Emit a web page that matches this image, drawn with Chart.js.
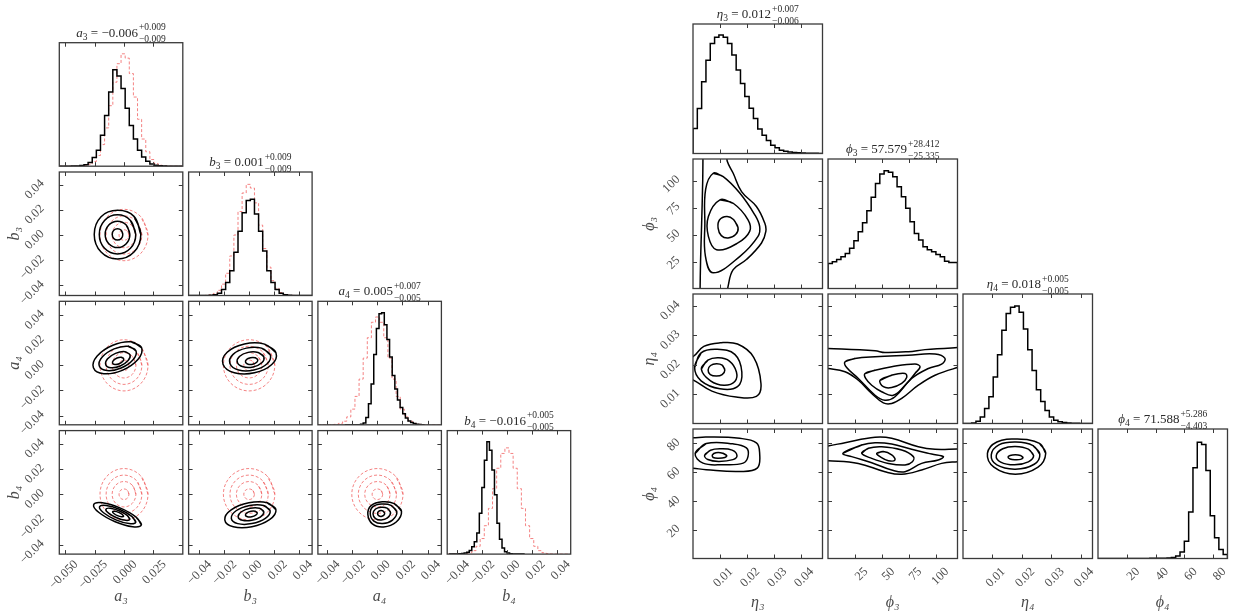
<!DOCTYPE html>
<html><head><meta charset="utf-8">
<script src="https://cdn.jsdelivr.net/npm/chart.js@4.4.1/dist/chart.umd.min.js"></script>
<style>
html,body{margin:0;padding:0;background:#fff;}
#wrap{position:relative;width:1233px;height:614px;overflow:hidden;background:#fff;}
#wrap canvas{position:absolute;left:0;top:0;}
.ttl{position:absolute;display:flex;align-items:center;transform:translateX(-50%);font-family:"Liberation Serif","DejaVu Serif",serif;color:#2a2a2a;white-space:nowrap;}
.ttl .m{font-size:13px;line-height:13px;}
.ttl .s{font-size:9.5px;position:relative;top:3px;}
.ttl .ud{display:flex;flex-direction:column;font-size:9.5px;line-height:12px;margin-left:1px;}
</style></head>
<body><div id="wrap"></div>
<script>
// ================= DATA =================
// axis ranges
const a3Range=[-0.055,0.050], b3Range=[-0.048,0.050], a4Range=[-0.0474,0.051], b4Range=[-0.0475,0.0505];
const eta3Range=[0,0.048], phi3Range=[0,120], eta4Range=[0,0.044], phi4Range=[0,90];
// tick values
const a3Ticks=[-0.050,-0.025,0,0.025];
const b3Ticks=[-0.04,-0.02,0,0.02,0.04];
const a4Ticks=[-0.04,-0.02,0,0.02,0.04];
const b4Ticks=[-0.04,-0.02,0,0.02,0.04];
const eta3Ticks=[0.01,0.02,0.03,0.04];
const phi3Ticks=[25,50,75,100];
const eta4Ticks=[0.01,0.02,0.03,0.04];
const phi4Ticks=[20,40,60,80];
// parameter names
const leftNames=['a₃','b₃','a₄','b₄'];
const rightNames=['η₃','ϕ₃','η₄','ϕ₄'];
// titles: [symbol, subscript, median, plus, minus]
const leftTitles=[['a','3','−0.006','+0.009','−0.009'],['b','3','0.001','+0.009','−0.009'],['a','4','0.005','+0.007','−0.005'],['b','4','−0.016','+0.005','−0.005']];
const rightTitles=[['η','3','0.012','+0.007','−0.006'],['ϕ','3','57.579','+28.412','−25.335'],['η','4','0.018','+0.005','−0.005'],['ϕ','4','71.588','+5.286','−4.403']];

// histogram bins: [first edge, bin width]; heights as fraction of panel height
const a3BinsBlack=[-0.055,0.0035], a3BinsRed=[-0.055,0.0035];
const a3HistBlack=[0,0,0,0.001,0.002,0.005,0.012,0.03,0.07,0.13,0.25,0.41,0.60,0.78,0.73,0.63,0.47,0.33,0.22,0.13,0.075,0.04,0.018,0.008,0.003,0.001,0,0,0,0];
const a3HistRed=[0,0,0,0,0.001,0.002,0.005,0.015,0.038,0.087,0.175,0.31,0.49,0.68,0.83,0.91,0.875,0.75,0.56,0.38,0.22,0.117,0.054,0.022,0.008,0.003,0.001,0,0,0];
const b3BinsBlack=[-0.048,0.0032667], b3BinsRed=[-0.048,0.0032667];
const b3HistBlack=[0,0,0,0,0.001,0.002,0.0065,0.019,0.048,0.105,0.20,0.35,0.52,0.67,0.77,0.78,0.66,0.52,0.36,0.20,0.105,0.048,0.019,0.0065,0.002,0.001,0,0,0,0];
const b3HistRed=[0,0,0,0,0.001,0.006,0.017,0.042,0.092,0.18,0.32,0.49,0.68,0.83,0.90,0.87,0.75,0.57,0.38,0.23,0.12,0.058,0.024,0.009,0.003,0.001,0,0,0,0];
const a4BinsBlack=[-0.026,0.0021], a4BinsRed=[-0.0474,0.00328];
const a4HistBlack=[0,0,0,0,0,0.001,0.004,0.015,0.06,0.17,0.33,0.57,0.78,0.90,0.908,0.81,0.69,0.55,0.40,0.29,0.20,0.14,0.09,0.055,0.03,0.018,0.01,0.005,0.002,0.001];
const a4HistRed=[0,0,0,0.001,0.004,0.0115,0.029,0.064,0.127,0.23,0.37,0.54,0.705,0.83,0.873,0.83,0.705,0.54,0.37,0.23,0.127,0.064,0.029,0.0115,0.004,0.001,0,0,0,0];
const b4BinsBlack=[-0.046,0.002], b4BinsRed=[-0.0475,0.00327];
const b4HistBlack=[0,0,0,0,0.002,0.004,0.008,0.015,0.03,0.06,0.10,0.17,0.33,0.54,0.76,0.91,0.84,0.68,0.48,0.25,0.12,0.05,0.02,0.008,0.003,0.001,0,0,0,0];
const b4HistRed=[0,0,0,0.001,0.004,0.011,0.028,0.063,0.126,0.23,0.37,0.53,0.695,0.815,0.86,0.815,0.695,0.53,0.37,0.23,0.126,0.063,0.028,0.011,0.004,0.001,0,0,0,0];

const eta3Bins=[0,0.0016];
const eta3Hist=[0.193,0.348,0.554,0.72,0.85,0.897,0.915,0.897,0.85,0.76,0.644,0.54,0.44,0.35,0.27,0.19,0.14,0.10,0.064,0.044,0.026,0.018,0.012,0.008,0.005,0.003,0.002,0.001,0.001,0.0005];
const phi3Bins=[0,4];
const phi3Hist=[0.193,0.206,0.224,0.245,0.27,0.31,0.369,0.438,0.508,0.60,0.704,0.81,0.884,0.91,0.897,0.863,0.786,0.709,0.619,0.515,0.425,0.374,0.322,0.30,0.284,0.263,0.245,0.211,0.20,0.20];
const eta4Bins=[0,0.0014667];
const eta4Hist=[0,0,0.003,0.018,0.05,0.116,0.206,0.36,0.53,0.72,0.85,0.897,0.907,0.86,0.73,0.57,0.41,0.26,0.17,0.10,0.05,0.026,0.013,0.007,0.004,0.002,0.001,0,0,0];
const phi4Bins=[0,3];
const phi4Hist=[0,0,0,0,0,0,0,0,0,0,0,0,0.001,0.001,0.002,0.002,0.004,0.008,0.02,0.05,0.134,0.36,0.70,0.897,0.88,0.68,0.33,0.16,0.07,0.03];

// true-value (red dashed) contours, shared by all left 2D panels
const redContours=[
 [[0.0042,0],[0.003,0.003],[0,0.0042],[-0.003,0.003],[-0.0042,0],[-0.003,-0.003],[0,-0.0042],[0.003,-0.003]],
 [[0.0101,0],[0.00714,0.00714],[0,0.0101],[-0.00714,0.00714],[-0.0101,0],[-0.00714,-0.00714],[0,-0.0101],[0.00714,-0.00714]],
 [[0.0152,0],[0.01075,0.01075],[0,0.0152],[-0.01075,0.01075],[-0.0152,0],[-0.01075,-0.01075],[0,-0.0152],[0.01075,-0.01075]],
 [[0.0204,0],[0.01442,0.01442],[0,0.0204],[-0.01442,0.01442],[-0.0204,0],[-0.01442,-0.01442],[0,-0.0204],[0.01442,-0.01442]]
];
// posterior contours (black), left corner
const cA3B3=[
 [[-0.001,0.0005],[-0.0023,0.0037],[-0.0055,0.005],[-0.0087,0.0037],[-0.010,0.0005],[-0.0087,-0.0027],[-0.0055,-0.004],[-0.0023,-0.0027]],
 [[0.005,0.0005],[0.0019,0.0079],[-0.0055,0.011],[-0.0129,0.0079],[-0.016,0.0005],[-0.0129,-0.0069],[-0.0055,-0.010],[0.0019,-0.0069]],
 [[0.010,0.0005],[0.0055,0.0115],[-0.0055,0.016],[-0.0165,0.0115],[-0.021,0.0005],[-0.0165,-0.0105],[-0.0055,-0.015],[0.0055,-0.0105]],
 [[0.0143,0.0005],[0.0085,0.0148],[-0.0055,0.0196],[-0.0195,0.0145],[-0.0253,0.0005],[-0.0195,-0.0135],[-0.0055,-0.019],[0.0085,-0.0135]]
];
const cA3A4=[
 [[-0.0003,0.0053],[-0.0023,0.0064],[-0.0059,0.0058],[-0.009,0.0038],[-0.0097,0.0017],[-0.0077,0.0006],[-0.0041,0.0012],[-0.001,0.0032]],
 [[0.0051,0.0085],[0.0007,0.0109],[-0.0072,0.0095],[-0.0139,0.0052],[-0.0155,0.0005],[-0.0111,-0.0019],[-0.0032,-0.0005],[0.0035,0.0038]],
 [[0.0102,0.0116],[0.0035,0.0152],[-0.0084,0.0131],[-0.0185,0.0066],[-0.021,-0.0006],[-0.0143,-0.0042],[-0.0024,-0.0021],[0.0077,0.0044]],
 [[0.015,0.014],[0.0062,0.0187],[-0.0095,0.016],[-0.0228,0.0074],[-0.026,-0.002],[-0.0172,-0.0067],[-0.0015,-0.004],[0.0118,0.0046]]
];
const cB3A4=[
 [[0.0068,0.0046],[0.0048,0.0061],[0.0011,0.0061],[-0.0021,0.0046],[-0.0028,0.0024],[-0.0008,0.0009],[0.0029,0.0009],[0.0061,0.0024]],
 [[0.0117,0.0068],[0.0072,0.0102],[-0.0008,0.0103],[-0.0077,0.007],[-0.0093,0.0022],[-0.0048,-0.0012],[0.0032,-0.0013],[0.0101,0.002]],
 [[0.0168,0.0085],[0.0099,0.0137],[-0.0022,0.0137],[-0.0127,0.0087],[-0.0152,0.0015],[-0.0083,-0.0037],[0.0038,-0.0037],[0.0143,0.0013]],
 [[0.0213,0.0101],[0.0123,0.0169],[-0.0037,0.017],[-0.0174,0.0104],[-0.0207,0.0009],[-0.0117,-0.0059],[0.0043,-0.006],[0.018,0.0006]]
];
const cA3B4=[
 [[-0.0003,-0.0175],[-0.0014,-0.0161],[-0.0045,-0.0144],[-0.008,-0.0135],[-0.0097,-0.0139],[-0.0086,-0.0153],[-0.0055,-0.017],[-0.002,-0.0179]],
 [[0.005,-0.0199],[0.0027,-0.0168],[-0.0042,-0.0131],[-0.0117,-0.0111],[-0.0154,-0.0119],[-0.0131,-0.015],[-0.0062,-0.0187],[0.0013,-0.0207]],
 [[0.010,-0.0222],[0.0066,-0.0175],[-0.0039,-0.0119],[-0.0152,-0.0089],[-0.0208,-0.010],[-0.0174,-0.0147],[-0.0069,-0.0203],[0.0044,-0.0233]],
 [[0.0148,-0.0243],[0.0103,-0.0181],[-0.0035,-0.0108],[-0.0184,-0.0068],[-0.0258,-0.0083],[-0.0213,-0.0145],[-0.0075,-0.0218],[0.0074,-0.0258]]
];
const cB3B4=[
 [[0.0065,-0.0148],[0.0049,-0.0135],[0.0015,-0.0135],[-0.0017,-0.0148],[-0.0029,-0.0166],[-0.0013,-0.0179],[0.0021,-0.0179],[0.0053,-0.0166]],
 [[0.0117,-0.0139],[0.0083,-0.0111],[0.0009,-0.0111],[-0.0061,-0.0139],[-0.0087,-0.0179],[-0.0053,-0.0207],[0.0021,-0.0207],[0.0091,-0.0179]],
 [[0.0167,-0.0131],[0.0116,-0.0089],[0.0004,-0.0089],[-0.0103,-0.0131],[-0.0141,-0.0191],[-0.009,-0.0233],[0.0022,-0.0233],[0.0129,-0.0191]],
 [[0.0213,-0.0123],[0.0145,-0.0068],[-0.0002,-0.0068],[-0.0142,-0.0124],[-0.0193,-0.0203],[-0.0125,-0.0258],[0.0022,-0.0258],[0.0162,-0.0202]]
];
const cA4B4=[
 [[0.0058,-0.015],[0.0047,-0.0135],[0.003,-0.013],[0.001,-0.0136],[0.0001,-0.0153],[0.001,-0.017],[0.003,-0.0176],[0.005,-0.0168]],
 [[0.0105,-0.0145],[0.0077,-0.011],[0.003,-0.0103],[-0.0015,-0.0117],[-0.0035,-0.0155],[-0.0015,-0.0193],[0.003,-0.0205],[0.008,-0.0188]],
 [[0.0155,-0.0138],[0.0108,-0.0088],[0.0035,-0.0078],[-0.0035,-0.0098],[-0.0057,-0.0155],[-0.0028,-0.0213],[0.0043,-0.0232],[0.012,-0.0205]],
 [[0.0192,-0.0135],[0.0135,-0.0075],[0.004,-0.006],[-0.005,-0.009],[-0.0076,-0.016],[-0.004,-0.0235],[0.005,-0.0259],[0.015,-0.022]]
];
// right corner contours (closed loops and curves that leave the panel)
const cEta3Phi3=[
 [[0.0167,56.5],[0.015,64],[0.0125,66.7],[0.0098,63.5],[0.0093,56],[0.0105,49],[0.013,46.8],[0.0158,50]],
 [[0.01,82.2],[0.0149,79],[0.0204,63.7],[0.021,52.9],[0.0165,42],[0.0087,36],[0.0057,48.3],[0.0057,66.7]],
 [[0.0075,106.8],[0.0112,103.7],[0.0174,88.3],[0.0229,68.3],[0.0247,57.5],[0.0241,48.3],[0.0174,29.8],[0.0075,14.5],[0.0046,30],[0.0044,60],[0.0047,92]]
];
const cEta3Phi3Open=[
 [[0.0037,125],[0.0036,100],[0.0032,60],[0.0028,25],[0.0026,-5]],
 [[0.0126,125],[0.0127,118],[0.0149,106.8],[0.018,89.8],[0.0235,76],[0.0266,60.6],[0.027,52.9],[0.0254,42.2],[0.0198,26.8],[0.0149,17.5],[0.013,2],[0.0128,-5]]
];
const cEta3Eta4=[
 [[0.0118,0.0182],[0.0108,0.0198],[0.0087,0.0203],[0.0065,0.0197],[0.0056,0.0182],[0.0064,0.0166],[0.0087,0.0161],[0.0108,0.0166]],
 [[0.0031,0.0185],[0.0055,0.0215],[0.0095,0.0223],[0.0135,0.0212],[0.0161,0.0175],[0.0155,0.0143],[0.0115,0.013],[0.0065,0.0145]],
 [[0.0006,0.019],[0.003,0.024],[0.009,0.0252],[0.0155,0.0235],[0.0181,0.0175],[0.0165,0.0125],[0.010,0.0118],[0.003,0.0145]]
];
const cEta3Eta4Open=[
 [[-0.002,0.0228],[0,0.0227],[0.004,0.0262],[0.010,0.0274],[0.0165,0.0270],[0.0225,0.0225],[0.0252,0.0135],[0.0235,0.0092],[0.016,0.009],[0.007,0.011],[0,0.0148],[-0.002,0.015]]
];
const cPhi3Eta4=[
 [[48.2,0.0147],[59,0.0164],[71.4,0.017],[72.9,0.0156],[68.3,0.0136],[59,0.0122],[51.3,0.0125]],
 [[34.3,0.017],[43.6,0.0181],[59,0.0193],[80.6,0.0202],[85.3,0.0193],[80.6,0.017],[71.4,0.013],[60.5,0.0096],[49.7,0.0108],[40.5,0.013],[34.9,0.0153]],
 [[15.8,0.021],[25,0.0221],[43.6,0.0227],[74.4,0.0232],[99.2,0.0236],[108.4,0.0221],[105.3,0.0202],[93,0.0187],[77.5,0.0153],[62.1,0.0091],[52.8,0.0079],[43.6,0.0096],[28.1,0.0153],[17.3,0.019]]
];
const cPhi3Eta4Open=[
 [[-5,0.0255],[0,0.0255],[43.6,0.0247],[52.8,0.0241],[74.4,0.0244],[89.9,0.0251],[120,0.0258],[125,0.0258]],
 [[-5,0.0188],[0,0.0187],[15.8,0.0176],[28.1,0.0147],[40.5,0.0102],[51.3,0.007],[59,0.0068],[68.3,0.0085],[83.7,0.013],[99.2,0.0164],[120,0.019],[125,0.0192]]
];
const cEta3Phi4=[
 [[0.0125,71.5],[0.011,73.2],[0.0085,73.5],[0.0072,72],[0.0075,70.2],[0.0095,69.7],[0.0118,70.2]],
 [[0.0043,71.8],[0.0065,75.2],[0.0099,76.2],[0.0145,75.3],[0.0163,71.5],[0.0148,68.7],[0.0095,67.5],[0.0055,68.8]],
 [[0.0008,73],[0.0049,79.9],[0.0148,79.7],[0.0198,76.9],[0.0204,71],[0.0186,66.3],[0.0111,65.2],[0.0037,66.3]]
];
const cEta3Phi4Open=[
 [[-0.002,84],[0,83.9],[0.0049,84.4],[0.0173,83.5],[0.0235,80.4],[0.0247,73.4],[0.0238,62.8],[0.0173,60.5],[0.0049,61.7],[0,62.8],[-0.002,63]]
];
const cPhi3Phi4=[
 [[45.1,73.1],[51.3,74.3],[59,72],[62.1,68.5],[55.9,68],[48.2,70.8]],
 [[31.2,73.1],[37.4,76.6],[49.7,77.7],[68.3,75.4],[79.1,70.8],[78.2,67.3],[71.4,65],[55.9,66.1],[40.5,69.6]],
 [[13.9,73.1],[31.2,78.9],[43.6,80.5],[59,79.6],[77.5,75.9],[96.1,72.6],[106.9,70.8],[102.2,68.5],[86.8,66.1],[71.4,60.3],[59,61.5],[40.5,66.6],[21.9,70.8]]
];
const cPhi3Phi4Open=[
 [[-5,78],[0,78.2],[15.8,80.5],[43.6,84.2],[59,83.5],[83.7,77.7],[99.2,75.9],[120,76.1],[125,76.1]],
 [[-5,68],[0,68],[28.1,66.1],[52.8,60.3],[68.3,58.5],[86.8,61.5],[105.3,66.1],[120,67.3],[125,67.5]]
];
const cEta4Phi4=[
 [[0.0204,70.2],[0.0195,71.6],[0.0178,72.1],[0.016,71.6],[0.0153,70.5],[0.016,69.1],[0.0178,68.6],[0.0196,68.9]],
 [[0.024,71.5],[0.0222,76],[0.0178,77.9],[0.0135,76.3],[0.0113,71.5],[0.0128,67],[0.0175,65.1],[0.0222,67.2]],
 [[0.0261,72.5],[0.0238,78.5],[0.018,80.9],[0.0122,79],[0.0096,72],[0.0115,65],[0.0178,62.1],[0.0242,65.5]],
 [[0.0281,73],[0.026,80],[0.0185,83],[0.0115,81],[0.0083,73],[0.0105,63.5],[0.0178,58.6],[0.0255,63.5]]
];

// ================= DRAWING =================
const W=1233, H=614;
const FONT="'Liberation Serif','DejaVu Serif',serif";
const wrap=document.getElementById('wrap');

const leftParams=[
 {name:leftNames[0],range:a3Range,ticks:a3Ticks,dec:3},
 {name:leftNames[1],range:b3Range,ticks:b3Ticks,dec:2},
 {name:leftNames[2],range:a4Range,ticks:a4Ticks,dec:2},
 {name:leftNames[3],range:b4Range,ticks:b4Ticks,dec:2}];
const rightParams=[
 {name:rightNames[0],range:eta3Range,ticks:eta3Ticks,dec:2},
 {name:rightNames[1],range:phi3Range,ticks:phi3Ticks,dec:0},
 {name:rightNames[2],range:eta4Range,ticks:eta4Ticks,dec:2},
 {name:rightNames[3],range:phi4Range,ticks:phi4Ticks,dec:0}];

const BLACK='#000', RED='rgba(240,90,90,0.75)';
function histDs(bins, vals, color, width, dash){
  const pts=[[bins[0],0]];
  vals.forEach((v,k)=>pts.push([bins[0]+k*bins[1],v]));
  const end=bins[0]+vals.length*bins[1];
  pts.push([end,vals[vals.length-1]]); pts.push([end,0]);
  return {data:pts,showLine:true,stepped:'before',tension:0,pointRadius:0,borderColor:color,borderWidth:width,borderDash:dash||[],fill:false};
}
function loopDs(pts,color,width,dash,tension){
  return {data:pts.concat([pts[0],pts[1]]),showLine:true,tension:tension,pointRadius:0,borderColor:color,borderWidth:width,borderDash:dash||[],fill:false};
}
function openDs(pts,color,width){
  return {data:pts,showLine:true,tension:0.4,pointRadius:0,borderColor:color,borderWidth:width,fill:false};
}
function fmt(dec){return v=>{let s=Number(v).toFixed(dec); if(s.charAt(0)==='-') s='−'+s.slice(1); if(/^−0(\.0+)?$/.test(s)) s=s.slice(1); return s;};}

const framePlugin={
  id:'frame',
  afterDraw(chart,args,o){
    const {ctx,chartArea:a,scales:{x,y}}=chart;
    ctx.save();
    ctx.strokeStyle='#3a3a3a'; ctx.lineWidth=1;
    const L=4;
    ctx.beginPath();
    x.ticks.forEach(t=>{const p=Math.round(x.getPixelForValue(t.value))+0.5; ctx.moveTo(p,a.bottom); ctx.lineTo(p,a.bottom-L); ctx.moveTo(p,a.top); ctx.lineTo(p,a.top+L);});
    if(o.yTicks) y.ticks.forEach(t=>{const p=Math.round(y.getPixelForValue(t.value))+0.5; ctx.moveTo(a.left,p); ctx.lineTo(a.left+L,p); ctx.moveTo(a.right,p); ctx.lineTo(a.right-L,p);});
    ctx.stroke();
    ctx.lineWidth=1.3;
    ctx.strokeRect(a.left,a.top,a.right-a.left,a.bottom-a.top);
    ctx.restore();
  }
};

function makePanel(box,px,py,datasets,o){
  const cv=document.createElement('canvas'); cv.width=W; cv.height=H; wrap.appendChild(cv);
  const xH=o.xLabels?o.xH:0, yW=o.yLabels?o.yW:0;
  const yRange=py?py.range:[0,1], yTicks=py?py.ticks:[0.5];
  new Chart(cv,{
    type:'scatter',
    data:{datasets},
    options:{
      responsive:false,animation:false,events:[],
      layout:{padding:{left:box.x-yW,top:box.y,right:W-box.x-box.w,bottom:H-box.y-box.h-xH}},
      plugins:{legend:{display:false},tooltip:{enabled:false},frame:{yTicks:!!py}},
      scales:{
        x:{type:'linear',position:'bottom',min:px.range[0],max:px.range[1],
          grid:{display:false,drawTicks:false,tickLength:0},border:{display:false},
          ticks:{display:!!o.xLabels,autoSkip:false,minRotation:45,maxRotation:45,padding:o.xPad,labelOffset:11,color:'#4a4a4a',font:{family:FONT,size:12.5},callback:fmt(px.dec)},
          afterBuildTicks:s=>{s.ticks=px.ticks.map(v=>({value:v}));},
          afterFit:s=>{s.height=xH; s.paddingLeft=0; s.paddingRight=0;},
          title:{display:!!o.xLabels,text:px.name,color:'#4a4a4a',padding:0,font:{family:FONT,size:16,style:'italic'}}},
        y:{type:'linear',position:'left',min:yRange[0],max:yRange[1],
          grid:{display:false,drawTicks:false,tickLength:0},border:{display:false},
          ticks:{display:!!o.yLabels,autoSkip:false,minRotation:45,maxRotation:45,padding:o.yPad,labelOffset:-3,color:'#4a4a4a',font:{family:FONT,size:12.5},callback:fmt(py?py.dec:0)},
          afterBuildTicks:s=>{s.ticks=yTicks.map(v=>({value:v}));},
          afterFit:s=>{s.width=yW; s.paddingTop=0; s.paddingBottom=0;},
          title:{display:!!o.yLabels,text:py?py.name:'',color:'#4a4a4a',padding:0,font:{family:FONT,size:16,style:'italic'}}}
      }
    },
    plugins:[framePlugin]
  });
}

function addTitle(cx,top,t){
  const d=document.createElement('div'); d.className='ttl';
  d.style.left=cx+'px'; d.style.top=(top-21.5)+'px';
  d.innerHTML='<span class="m"><i>'+t[0]+'</i><span class="s">'+t[1]+'</span> = '+t[2]+'</span><span class="ud"><span>'+t[3]+'</span><span>'+t[4]+'</span></span>';
  wrap.appendChild(d);
}

// ---- left corner ----
const LB={x0:59.3,y0:42.7,pitch:129.3,size:123.5,xH:52.4,yW:54,xPad:3,yPad:17};
const leftHists=[
 [[a3BinsBlack,a3HistBlack],[a3BinsRed,a3HistRed]],
 [[b3BinsBlack,b3HistBlack],[b3BinsRed,b3HistRed]],
 [[a4BinsBlack,a4HistBlack],[a4BinsRed,a4HistRed]],
 [[b4BinsBlack,b4HistBlack],[b4BinsRed,b4HistRed]]];
const leftContours={'10':cA3B3,'20':cA3A4,'21':cB3A4,'30':cA3B4,'31':cB3B4,'32':cA4B4};
// ---- right corner ----
const RB={x0:693,y0:24,pitch:135,size:129.5,xH:54,yW:52.6,xPad:6,yPad:15};
const rightHists=[[eta3Bins,eta3Hist],[phi3Bins,phi3Hist],[eta4Bins,eta4Hist],[phi4Bins,phi4Hist]];
const rightContours={'10':[cEta3Phi3,cEta3Phi3Open],'20':[cEta3Eta4,cEta3Eta4Open],'21':[cPhi3Eta4,cPhi3Eta4Open],
 '30':[cEta3Phi4,cEta3Phi4Open],'31':[cPhi3Phi4,cPhi3Phi4Open],'32':[cEta4Phi4,[]]};

for(let i=0;i<4;i++) for(let j=0;j<=i;j++){
  const box={x:LB.x0+j*LB.pitch,y:LB.y0+i*LB.pitch,w:LB.size,h:LB.size};
  let ds=[];
  if(i===j){
    ds.push(histDs(leftHists[i][0][0],leftHists[i][0][1],BLACK,1.5));
    ds.push(histDs(leftHists[i][1][0],leftHists[i][1][1],RED,1,[3,2]));
  } else {
    leftContours[''+i+j].forEach(c=>ds.push(loopDs(c,BLACK,1.5,[],0.4)));
    redContours.forEach(c=>ds.push(loopDs(c,RED,1,[3,2],0.375)));
  }
  makePanel(box,leftParams[j],i===j?null:leftParams[i],ds,{xLabels:i===3,yLabels:j===0&&i>0,xH:LB.xH,yW:LB.yW,xPad:LB.xPad,yPad:LB.yPad});
}
for(let i=0;i<4;i++) for(let j=0;j<=i;j++){
  const box={x:RB.x0+j*RB.pitch,y:RB.y0+i*RB.pitch,w:RB.size,h:RB.size};
  let ds=[];
  if(i===j){
    ds.push(histDs(rightHists[i][0],rightHists[i][1],BLACK,1.5));
  } else {
    const cs=rightContours[''+i+j];
    cs[0].forEach(c=>ds.push(loopDs(c,BLACK,1.5,[],0.4)));
    cs[1].forEach(c=>ds.push(openDs(c,BLACK,1.5)));
  }
  makePanel(box,rightParams[j],i===j?null:rightParams[i],ds,{xLabels:i===3,yLabels:j===0&&i>0,xH:RB.xH,yW:RB.yW,xPad:RB.xPad,yPad:RB.yPad});
}
for(let k=0;k<4;k++){
  addTitle(LB.x0+k*LB.pitch+LB.size/2,LB.y0+k*LB.pitch,leftTitles[k]);
  addTitle(RB.x0+k*RB.pitch+RB.size/2,RB.y0+k*RB.pitch,rightTitles[k]);
}
</script></body></html>
